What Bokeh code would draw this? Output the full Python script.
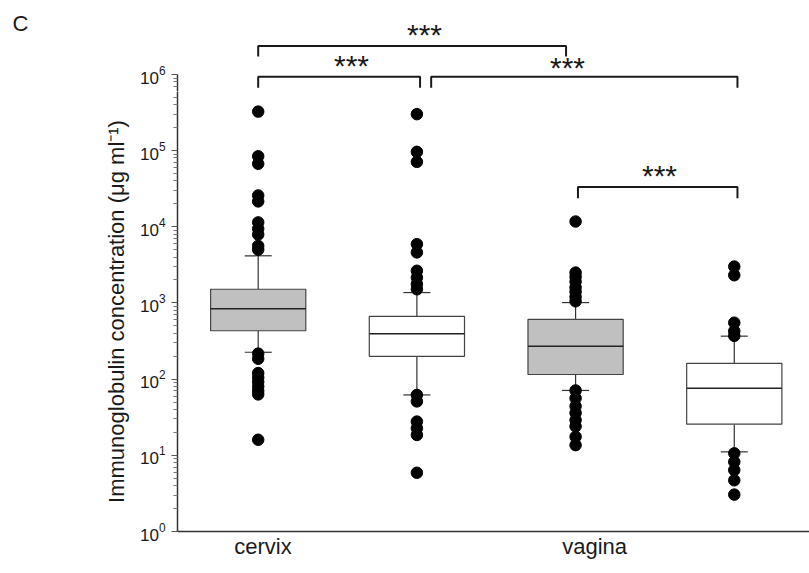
from bokeh.plotting import figure
from bokeh.layouts import column
from bokeh.models import ColumnDataSource, FixedTicker, Range1d, LogAxis
from bokeh.core.properties import value
from bokeh.embed import file_html
from bokeh.resources import INLINE

# ---------------- data ----------------
box_pos = [1, 2, 3, 4]
box_fill = ["#c0c0c0", "#ffffff", "#c0c0c0", "#ffffff"]
q1 = [431, 199, 115, 25.6]
median = [841, 394, 270, 76]
q3 = [1510, 666, 608, 161]
whisker_lo = [225, 62, 71, 11.1]
whisker_hi = [4155, 1367, 1010, 366]
outliers = [
    [324000, 84000, 67000, 25700, 21500, 11400, 9400, 7900, 5600, 5000,
     216, 185, 120, 105, 92, 80, 70, 63, 16],
    [300000, 96000, 71000, 5900, 4600, 2640, 2150, 1760, 1510,
     62, 51, 27.7, 22.6, 18.5, 5.9],
    [11700, 2500, 2200, 1900, 1600, 1400, 1200, 1050,
     71, 56, 44, 36, 29, 24, 17.5, 13.6],
    [3000, 2310, 550, 426, 370, 10.6, 8.2, 6.4, 4.7, 3.05],
]
category_labels = ["cervix", "vagina"]
category_label_pos = [1.03, 3.12]
y_ticks = [1, 10, 100, 1e3, 1e4, 1e5, 1e6]
y_minor = [m * 10 ** k for k in range(6) for m in range(2, 10)]
y_title = "Immunoglobulin concentration (\u03bcg ml\u207b\u00b9)"

# significance brackets
br_left = [1.0, 1.0, 2.09, 3.015]
br_right = [2.94, 2.02, 4.02, 4.02]
br_top = [2.45e6, 9.4e5, 9.4e5, 3.32e4]
br_foot = [1.77e6, 6.7e5, 6.7e5, 2.36e4]
star_x = [2.048, 1.588, 2.949, 3.529]
star_y = [3.50e6, 1.32e6, 1.265e6, 4.68e4]
star_text = ["***", "***", "***", "***"]

panel_letter = "C"
panel_letter_y = 4.88e6

FONT = "Liberation Sans"
INK = "#1a1a1a"

X0, X1 = 0.4915, 4.474      # x extent of the plot frame
Y_SPLIT = 5.95e5            # y where the strip above meets the main plot
Y_TOP = 1.01e7              # y at the top edge of the page


def style_y_axis(ax):
    ax.ticker = FixedTicker(ticks=y_ticks, minor_ticks=y_minor)
    ax.bounds = (1, 1e6)
    ax.axis_line_width = 1.5
    ax.axis_line_color = "#333333"
    ax.major_tick_in = 0
    ax.major_tick_out = 6
    ax.minor_tick_in = 0
    ax.minor_tick_out = 4
    ax.major_tick_line_color = "#555555"
    ax.minor_tick_line_color = "#777777"
    ax.major_label_text_font = FONT
    ax.major_label_text_font_size = "17px"
    ax.major_label_text_color = INK
    ax.major_label_standoff = 6


def draw_brackets(fig):
    bx, by = [], []
    for l, r, t, f in zip(br_left, br_right, br_top, br_foot):
        bx.append([l, l, r, r])
        by.append([f, t, t, f])
    fig.multi_line(bx, by, line_color=INK, line_width=2)


def draw_stars(fig, upper):
    sel = [i for i, y in enumerate(star_y) if (y > Y_SPLIT) == upper]
    fig.text(x=[star_x[i] for i in sel], y=[star_y[i] for i in sel],
             text=[star_text[i] for i in sel], text_font=value(FONT),
             text_font_size="30px", text_align="center", text_baseline="alphabetic",
             text_color=INK)


# ---- strip above: brackets, stars, top of the y axis and the panel letter ----
top = figure(width=809, height=91, output_backend="svg", toolbar_location=None,
             y_axis_type="log", x_range=Range1d(X0, X1), y_range=Range1d(Y_SPLIT, Y_TOP),
             min_border_left=177, min_border_right=0, min_border_top=0,
             min_border_bottom=0, x_axis_location=None)
top.outline_line_color = None
top.grid.visible = False
style_y_axis(top.yaxis[0])

letter_axis = LogAxis(ticker=FixedTicker(ticks=[panel_letter_y], minor_ticks=[]),
                      major_label_overrides={panel_letter_y: panel_letter},
                      axis_line_color=None, major_tick_line_color=None,
                      minor_tick_line_color=None, major_tick_out=0, major_tick_in=0,
                      minor_tick_out=0, minor_tick_in=0,
                      major_label_text_font=FONT, major_label_text_font_size="22px",
                      major_label_text_color=INK, major_label_standoff=108)
top.add_layout(letter_axis, "left")
draw_brackets(top)
draw_stars(top, True)

# ---- main plot ----
p = figure(width=809, height=573 - 91, output_backend="svg", toolbar_location=None,
           y_axis_type="log",
           x_range=Range1d(X0, X1), y_range=Range1d(1, Y_SPLIT),
           min_border_left=177, min_border_right=0, min_border_top=0,
           min_border_bottom=42)
p.outline_line_color = None
p.grid.visible = False

ya = p.yaxis[0]
style_y_axis(ya)
ya.axis_label = y_title
ya.axis_label_text_font = FONT
ya.axis_label_text_font_style = "normal"
ya.axis_label_text_font_size = "22px"
ya.axis_label_text_color = INK
ya.axis_label_standoff = 8

xa = p.xaxis[0]
xa.ticker = FixedTicker(ticks=category_label_pos)
xa.major_label_overrides = {pos: lab for pos, lab in zip(category_label_pos, category_labels)}
xa.axis_line_width = 1.5
xa.axis_line_color = "#333333"
xa.major_tick_line_color = None
xa.minor_tick_line_color = None
xa.major_tick_out = 0
xa.major_label_text_font = FONT
xa.major_label_text_font_size = "22px"
xa.major_label_text_color = INK
xa.major_label_standoff = 2

src = ColumnDataSource(dict(x=box_pos, q1=q1, med=median, q3=q3, lo=whisker_lo,
                            hi=whisker_hi, fill=box_fill))
BW = 0.6
CW = 0.17
src.data["cl"] = [x - CW / 2 for x in box_pos]
src.data["cr"] = [x + CW / 2 for x in box_pos]
src.data["bl"] = [x - BW / 2 for x in box_pos]
src.data["br"] = [x + BW / 2 for x in box_pos]
p.segment(x0="x", y0="q3", x1="x", y1="hi", source=src, line_color="#333333", line_width=1.2)
p.segment(x0="x", y0="q1", x1="x", y1="lo", source=src, line_color="#333333", line_width=1.2)
p.segment(x0="cl", y0="hi", x1="cr", y1="hi", source=src, line_color="#333333", line_width=1.2)
p.segment(x0="cl", y0="lo", x1="cr", y1="lo", source=src, line_color="#333333", line_width=1.2)
p.vbar(x="x", width=BW, bottom="q1", top="q3", source=src, fill_color="fill",
       line_color="#444444", line_width=1.2)
p.segment(x0="bl", y0="med", x1="br", y1="med", source=src, line_color="#222222", line_width=1.5)

ox, oy = [], []
for pos, vals in zip(box_pos, outliers):
    ox += [pos] * len(vals)
    oy += vals
p.scatter(ox, oy, size=11.5, marker="circle", fill_color="black", line_color="black")

draw_brackets(p)
draw_stars(p, False)

layout = column(top, p, spacing=0)
open("out.html", "w").write(file_html(layout, INLINE))
